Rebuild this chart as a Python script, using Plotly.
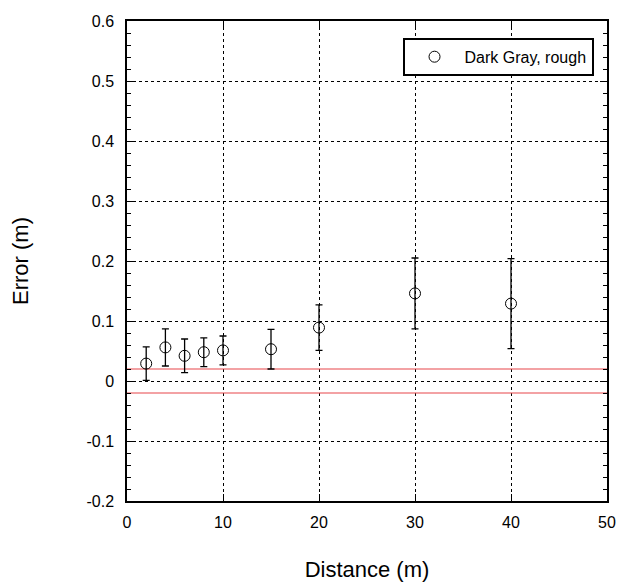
import plotly.graph_objects as go

distance = [2, 4, 6, 8, 10, 15, 20, 30, 40]
error = [0.029, 0.056, 0.042, 0.048, 0.051, 0.053, 0.089, 0.146, 0.129]
error_bar = [0.028, 0.031, 0.028, 0.024, 0.024, 0.033, 0.038, 0.059, 0.075]
tolerance = [0.02, -0.02]
x_range = [0, 50]
y_range = [-0.2, 0.6]
x_ticks = [0, 10, 20, 30, 40, 50]
y_ticks = [-0.2, -0.1, 0, 0.1, 0.2, 0.3, 0.4, 0.5, 0.6]
y_tick_labels = ["-0.2", "-0.1", "0", "0.1", "0.2", "0.3", "0.4", "0.5", "0.6"]

FONT = "Liberation Sans, Arial, sans-serif"

fig = go.Figure()

for t in tolerance:
    fig.add_trace(go.Scatter(
        x=x_range, y=[t, t], mode="lines",
        line=dict(color="#e8474a", width=1.2),
        showlegend=False, hoverinfo="skip"))

fig.add_trace(go.Scatter(
    x=distance, y=error, mode="markers", name="Dark Gray, rough",
    marker=dict(symbol="circle-open", size=11, color="black",
                line=dict(color="black", width=1)),
    error_y=dict(type="data", array=error_bar, visible=True,
                 color="black", thickness=1.3, width=3.5),
))

axis_common = dict(
    showline=True, linecolor="black", linewidth=1.5, mirror="allticks",
    ticks="inside", ticklen=7, tickcolor="black", tickwidth=1,
    showgrid=True, gridcolor="black", gridwidth=1, griddash="3px,3px",
    zeroline=False, automargin=False,
    tickfont=dict(family=FONT, size=16, color="black"),
)

fig.update_xaxes(
    range=x_range, tickvals=x_ticks, ticklabelstandoff=6,
    title=dict(text="Distance (m)", font=dict(family=FONT, size=22, color="black"), standoff=32),
    **axis_common)
fig.update_yaxes(
    range=y_range, tickvals=y_ticks, ticktext=y_tick_labels, ticklabelstandoff=8,
    minor=dict(dtick=0.02, ticks="inside", ticklen=4, tickcolor="black", showgrid=False),
    title=dict(text="Error (m)", font=dict(family=FONT, size=22, color="black"), standoff=52),
    **axis_common)

fig.update_layout(
    width=618, height=584,
    margin=dict(l=127, r=11, t=21, b=83),
    plot_bgcolor="white", paper_bgcolor="white",
    showlegend=True,
    legend=dict(x=0.574, y=0.965, xanchor="left", yanchor="top",
                bordercolor="black", borderwidth=2, bgcolor="white",
                font=dict(family=FONT, size=16, color="black"),
                itemwidth=50),
)

fig.write_html("out.html",
               config={"displayModeBar": False},
               post_script="document.body.style.margin='0';document.body.style.padding='0';")
